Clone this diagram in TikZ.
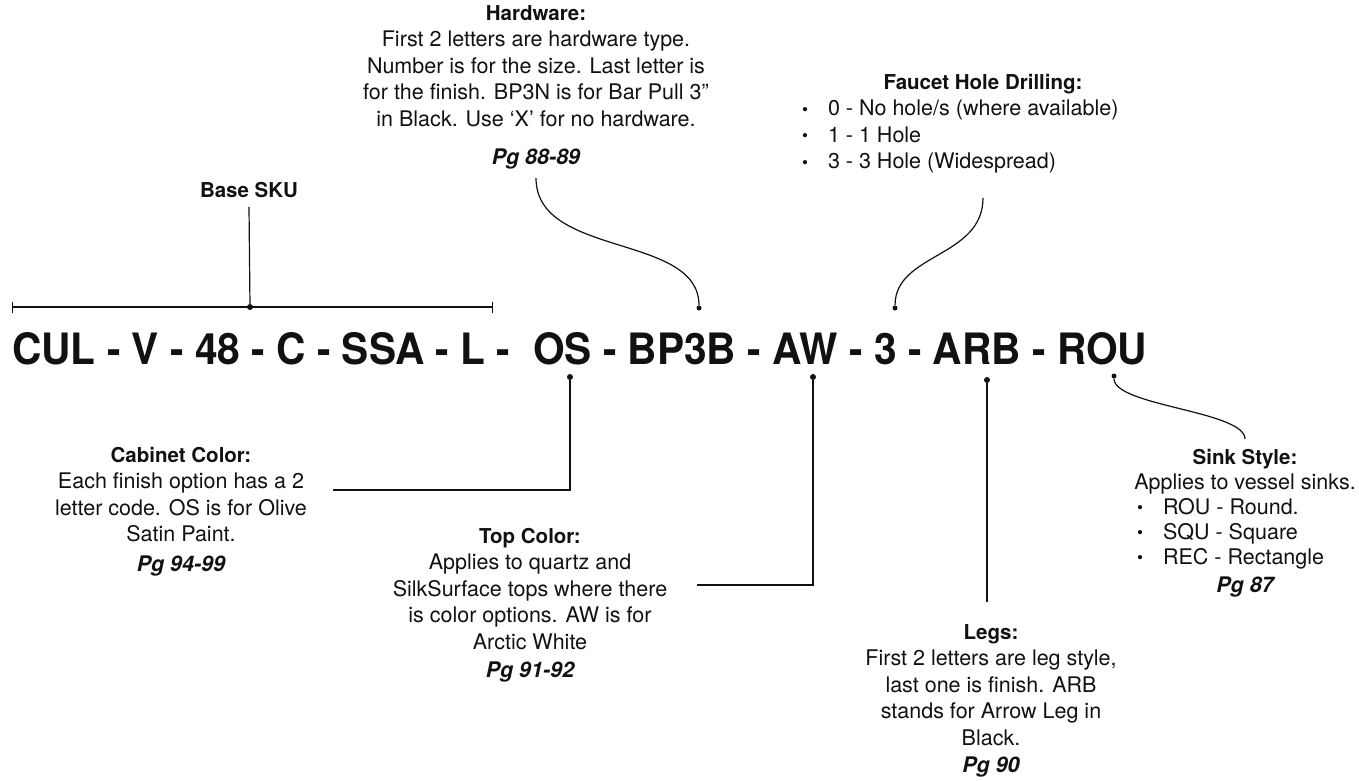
\documentclass[tikz,border=0pt]{standalone}
\usepackage{fontspec}
\setmainfont{TeX Gyre Heros}
\usepackage{graphicx}
\usepackage{tikz}
\usetikzlibrary{arrows.meta, positioning}
\definecolor{skuink}{HTML}{111111}
\newcommand{\notehead}[1]{{\fontsize{20.5}{26.5}\selectfont\bfseries #1}}
\newcommand{\notepg}[1]{{\bfseries\itshape #1}}
\newcommand{\notebul}[2]{\makebox[#1][l]{\makebox[26pt][l]{\raisebox{0.5pt}{\fontsize{17}{17}\selectfont\textbullet}}#2}}

\begin{document}
\begin{tikzpicture}[x=1pt, y=-1pt,
  note/.style={align=center, inner sep=0pt, text=skuink,
    font=\fontsize{21.5}{26.5}\selectfont},
  dot/.style={circle, fill=skuink, inner sep=0pt, minimum size=6pt},
  link/.style={draw=skuink, line width=1.2pt},
]
  \useasboundingbox (0,0) rectangle (1359,780);
  \node[anchor=base west, inner sep=0pt, text=skuink] (sku) at (12,364)
    {\resizebox{1135pt}{32pt}{\bfseries CUL - V - 48 - C - SSA - L -~ OS - BP3B - AW - 3 - ARB - ROU}};

  \node[dot] (basedot) at (250,307) {};
  \node[dot, minimum size=5pt] (hwdot) at (699,308) {};
  \node[dot, minimum size=5pt] (ftdot) at (895,308) {};
  \node[dot] (osdot) at (570,377) {};
  \node[dot] (awdot) at (813,377) {};
  \node[dot] (arbdot) at (987,380) {};
  \node[dot, minimum size=5pt] (roudot) at (1114,376) {};

  \node[note] (basesku) at (249,190) {\notehead{Base SKU}};
  \node[note, anchor=north] (hwnote) at (536,5) {\notehead{Hardware:}\\
    First 2 letters are hardware type.\\ Number is for the size. Last letter is\\
    for the finish. BP3N is for Bar Pull 3”\\ in Black. Use ‘X’ for no hardware.\\[11.5pt]
    \notepg{Pg 88-89}};
  \node[note, anchor=north] (ftnote) at (983,74) {\notehead{Faucet Hole Drilling:}\\
    \notebul{362pt}{0 - No hole/s (where available)}\\
    \notebul{362pt}{1 - 1 Hole}\\
    \notebul{362pt}{3 - 3 Hole (Widespread)}};
  \node[note, anchor=north] (cabnote) at (181,447) {\notehead{Cabinet Color:}\\
    Each finish option has a 2\\ letter code. OS is for Olive\\ Satin Paint.\\[3pt]
    \notepg{Pg 94-99}};
  \node[note, anchor=north] (topnote) at (530,528) {\notehead{Top Color:}\\
    Applies to quartz and\\ SilkSurface tops where there\\ is color options. AW is for\\
    Arctic White\\[2pt] \notepg{Pg 91-92}};
  \node[note, anchor=north] (legsnote) at (991,624) {\notehead{Legs:}\\
    First 2 letters are leg style,\\ last one is finish. ARB\\ stands for Arrow Leg in\\
    Black.\\[1pt] \notepg{Pg 90}};
  \node[note, anchor=north, font=\fontsize{21.5}{25}\selectfont] (sinknote) at (1245,449)
    {\notehead{Sink Style:}\\ Applies to vessel sinks.\\
    \notebul{216pt}{ROU - Round.}\\ \notebul{216pt}{SQU - Square}\\
    \notebul{216pt}{REC - Rectangle}\\[3pt] \notepg{Pg 87}};

  \coordinate (skuleft) at (12,307);
  \coordinate (skuright) at (493,307);
  \coordinate[below=9pt of basesku] (basetail);
  \coordinate[below=9pt of hwnote] (hwtail);
  \coordinate[below=24pt of ftnote] (fttail);
  \coordinate (cabtail) at (333,490);
  \coordinate (toptail) at (697,585);
  \coordinate[above=22pt of legsnote] (legstail);
  \coordinate[above=10pt of sinknote] (sinktail);

  \draw[link, {Bar[width=11pt]}-{Bar[width=11pt]}] (skuleft) -- (skuright);
  \draw[link] (basedot) -- (basetail);
  \draw[link] (hwtail) .. controls +(0,80) and +(0,-75) .. (hwdot);
  \draw[link] (fttail) .. controls +(0,60) and +(0,-55) .. (ftdot);
  \draw[link] (osdot) |- (cabtail);
  \draw[link] (awdot) |- (toptail);
  \draw[link] (arbdot) -- (arbdot |- legstail);
  \draw[link] (roudot) .. controls +(0,30) and +(0,-28) .. (sinktail);
\end{tikzpicture}
\end{document}
